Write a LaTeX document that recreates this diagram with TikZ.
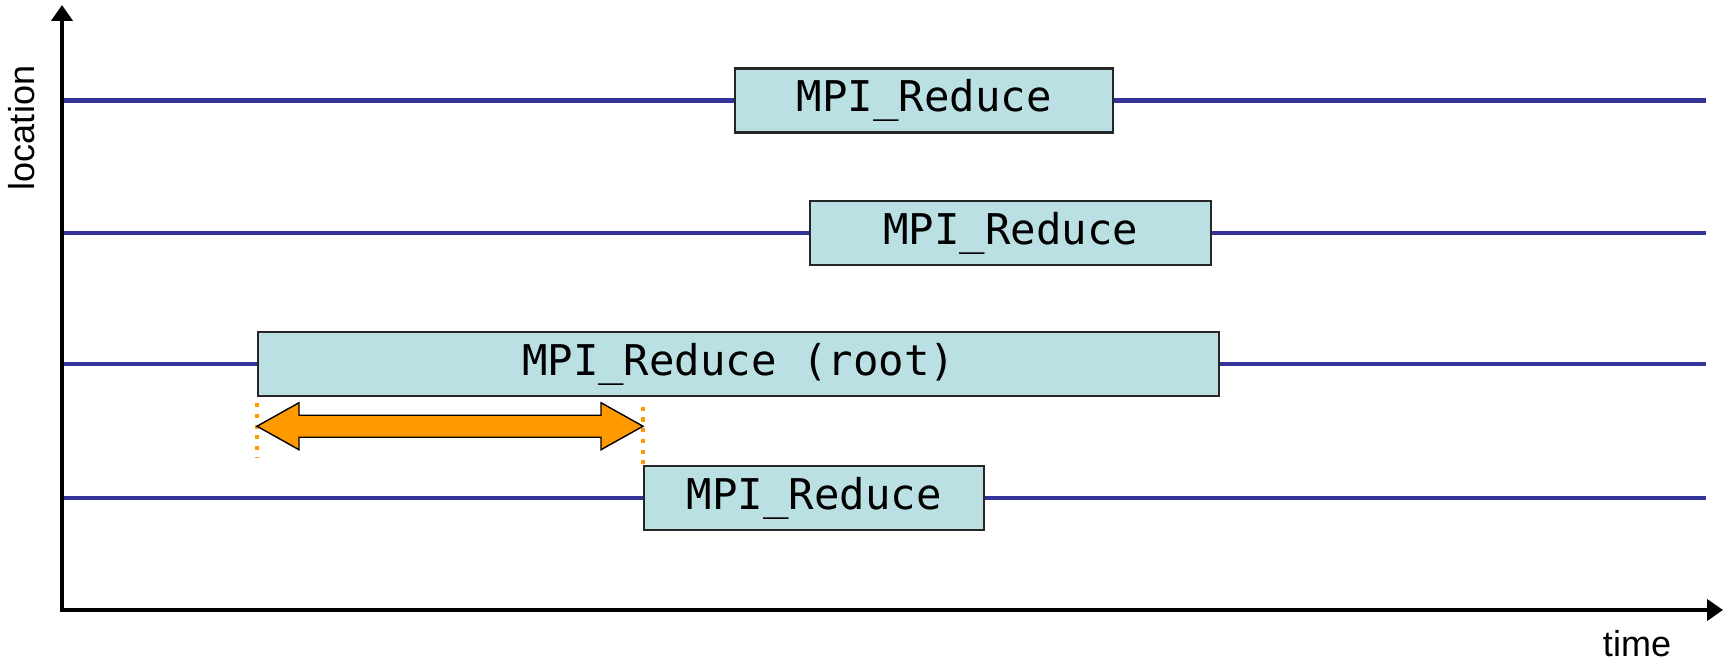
\documentclass[tikz,border=0pt]{standalone}
\usepackage{fontspec}
\setmainfont{Liberation Sans}
\setmonofont{DejaVu Sans Mono}
\usepackage{tikz}
\usetikzlibrary{calc}
\usetikzlibrary{arrows.meta}

\definecolor{linecol}{RGB}{51,51,153}
\definecolor{boxcol}{RGB}{187,224,227}
\definecolor{waitcol}{RGB}{255,153,0}

\tikzset{
    timeline/.style={draw=linecol, line width=2.5pt},
    call/.style={draw=black!85, line width=1.4pt, fill=boxcol, anchor=west,
        minimum height=1.28cm, inner sep=0pt,
        font=\fontsize{24.1}{28}\selectfont\ttfamily},
    axis/.style={line width=2.6pt,
        {Triangle[width=0.42cm,length=0.32cm]}-{Triangle[width=0.42cm,length=0.32cm]}},
    waitmark/.style={draw=waitcol, line width=2.3pt, dash pattern=on 2.3pt off 3.8pt},
    waitarrow/.style={fill=waitcol, draw=black, line width=0.8pt, line join=miter},
    axislabel/.style={font=\fontsize{20.5}{24}\selectfont}
}

\begin{document}
\begin{tikzpicture}
        \useasboundingbox (0,0) rectangle (34.62,13.28);
        \foreach \y in {11.27,8.62,6.00,3.32}
            \draw[timeline](1.24,\y)--(34.12,\y);
        \draw[axis](1.24,13.18)--(1.24,1.08)--(34.46,1.08);
        \node[axislabel, rotate=90] (loc) at (0.44,10.72){location};
        \node[axislabel] (time) at (32.74,0.40){time};
        \node[call, minimum width=7.56cm] (r0) at (14.68,11.27){MPI\_Reduce};
        \node[call, minimum width=8.02cm] (r1) at (16.18,8.62){MPI\_Reduce};
        \node[call, minimum width=19.22cm] (root) at (5.14,6.00){MPI\_Reduce (root)};
        \node[call, minimum width=6.80cm] (r3) at (12.86,3.32){MPI\_Reduce};
        % waiting time of the root
        \draw[waitmark]($(root.south west)+(0,-0.12)$)--++(0,-1.10);
        \draw[waitmark]($(r3.north west)+(0,1.16)$)--(r3.north west);
        \coordinate (wl) at ($(root.south west)+(0,-0.58)$);
        \coordinate (wr) at (r3.west |- wl);
        \filldraw[waitarrow](wl)--++(0.84,0.47)--++(0,-0.25)--($(wr)+(-0.84,0.22)$)--++(0,0.25)
            --(wr)--++(-0.84,-0.47)--++(0,0.25)--($(wl)+(0.84,-0.22)$)--++(0,-0.25)--cycle;
\end{tikzpicture}
\end{document}
